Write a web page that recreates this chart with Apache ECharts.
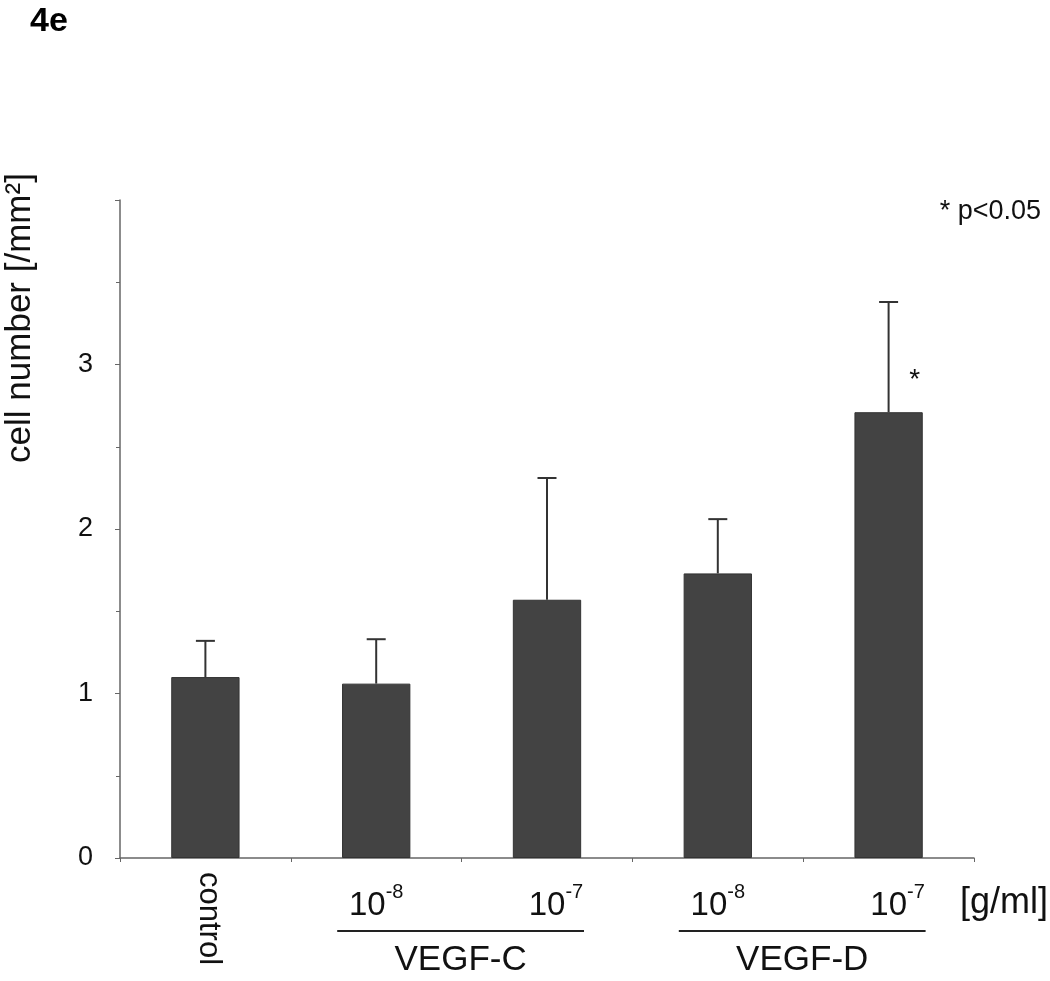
<!DOCTYPE html>
<html><head><meta charset="utf-8">
<script src="https://cdn.jsdelivr.net/npm/echarts@6/dist/echarts.min.js"></script>
<style>html,body{margin:0;padding:0;background:#fff}#c{width:1050px;height:981px}</style>
</head><body><div id="c"></div>
<script>
const categories = ['control', 'VEGF-C 10^-8', 'VEGF-C 10^-7', 'VEGF-D 10^-8', 'VEGF-D 10^-7'];
const doseExponents = ['', '-8', '-7', '-8', '-7'];
const groups = [{ name: 'VEGF-C', from: 1, to: 2 }, { name: 'VEGF-D', from: 3, to: 4 }];
const means = [1.10, 1.06, 1.57, 1.73, 2.71];
const errorTops = [1.32, 1.33, 2.31, 2.06, 3.38];
const significance = ['', '', '', '', '*'];
const yMax = 4;
const yLabelValues = [0, 1, 2, 3];
const unitLabel = '[g/ml]';
const legendNote = '* p<0.05';
const panelLabel = '4e';
const yName = 'cell number [/mm²]';

const FONT = '"Liberation Sans", Arial, sans-serif';
const chart = echarts.init(document.getElementById('c'), null, { renderer: 'canvas' });
const groupEnds = groups.map(g => g.to);

const option = {
  animation: false,
  backgroundColor: '#fff',
  grid: { left: 120, right: 76, top: 200, bottom: 123, containLabel: false, outerBoundsMode: 'none' },
  xAxis: {
    type: 'category',
    data: categories,
    boundaryGap: true,
    axisLine: { lineStyle: { color: '#666', width: 1.5 } },
    axisTick: { show: true, length: 4, lineStyle: { color: '#666' } },
    axisLabel: {
      margin: 24,
      interval: 0,
      formatter: function (v, i) {
        if (!doseExponents[i]) return '';
        const key = groupEnds.indexOf(i) >= 0 ? 'm' : 'n';
        return '{' + key + '|10}{s|' + doseExponents[i] + '}';
      },
      rich: {
        n: { fontSize: 33, fontFamily: FONT, color: '#111', lineHeight: 40, verticalAlign: 'bottom' },
        m: { fontSize: 33, fontFamily: FONT, color: '#111', lineHeight: 40, verticalAlign: 'bottom', padding: [0, 0, 0, 18] },
        s: { fontSize: 20, fontFamily: FONT, color: '#111', lineHeight: 40, verticalAlign: 'top' }
      }
    },
    splitLine: { show: false }
  },
  yAxis: {
    type: 'value',
    min: 0, max: yMax, interval: 1,
    axisLine: { show: true, lineStyle: { color: '#666', width: 1.5 } },
    axisTick: { show: true, length: 5, lineStyle: { color: '#666' } },
    minorTick: { show: true, splitNumber: 2, length: 4, lineStyle: { color: '#666' } },
    axisLabel: {
      margin: 27,
      fontSize: 27, fontFamily: FONT, color: '#111',
      formatter: function (v) { return yLabelValues.indexOf(v) >= 0 ? String(v) : ''; }
    },
    splitLine: { show: false }
  },
  series: [
    {
      type: 'bar',
      data: means,
      barCategoryGap: '60%',
      itemStyle: { color: '#434343', borderColor: '#333', borderWidth: 1 },
      z: 2
    },
    {
      type: 'custom',
      data: means.map((m, i) => [i, m, errorTops[i]]),
      encode: { x: 0, y: 2 },
      z: 3,
      renderItem: function (params, api) {
        const p0 = api.coord([api.value(0), api.value(1)]);
        const p1 = api.coord([api.value(0), api.value(2)]);
        const half = 9.5;
        const st = { stroke: '#333', lineWidth: 2 };
        return {
          type: 'group',
          children: [
            { type: 'line', shape: { x1: p0[0], y1: p0[1], x2: p1[0], y2: p1[1] }, style: st },
            { type: 'line', shape: { x1: p1[0] - half, y1: p1[1], x2: p1[0] + half, y2: p1[1] }, style: st }
          ]
        };
      }
    }
  ]
};
chart.setOption(option);

function px(i, v) { return chart.convertToPixel({ seriesIndex: 0 }, [i, v]); }
const graphics = [];
graphics.push({ type: 'text', left: 30, top: 5, style: { text: panelLabel, font: 'bold 34px ' + FONT, fill: '#000' } });
graphics.push({ type: 'text', x: 1041, y: 212, style: { text: legendNote, font: '27px ' + FONT, fill: '#111', align: 'right', verticalAlign: 'middle' } });
// y axis name
graphics.push({ type: 'text', x: 20, y: 318, rotation: Math.PI / 2,
  style: { text: yName, font: '35px ' + FONT, fill: '#111', align: 'center', verticalAlign: 'middle' } });
// control label (rotated)
const c0 = px(0, 0);
graphics.push({ type: 'text', x: c0[0] + 3, y: c0[1] + 14, rotation: -Math.PI / 2,
  style: { text: categories[0], font: '31px ' + FONT, fill: '#111', align: 'left', verticalAlign: 'middle' } });
// group lines and names
groups.forEach(g => {
  const a = px(g.from, 0), b = px(g.to, 0);
  const x1 = a[0] - 39, x2 = b[0] + 37;
  graphics.push({ type: 'line', shape: { x1: x1, y1: a[1] + 73, x2: x2, y2: a[1] + 73 }, style: { stroke: '#222', lineWidth: 2 } });
  graphics.push({ type: 'text', x: (x1 + x2) / 2, y: a[1] + 102, style: { text: g.name, font: '35px ' + FONT, fill: '#111', align: 'center', verticalAlign: 'middle' } });
});
// unit label
const last = px(categories.length - 1, 0);
graphics.push({ type: 'text', x: 1048, y: last[1] + 45, style: { text: unitLabel, font: '36px ' + FONT, fill: '#111', align: 'right', verticalAlign: 'middle' } });
// significance stars
significance.forEach((s, i) => {
  if (!s) return;
  const p = px(i, means[i]);
  graphics.push({ type: 'text', x: p[0] + 26, y: p[1] - 32, style: { text: s, font: '28px ' + FONT, fill: '#111', align: 'center', verticalAlign: 'middle' } });
});
chart.setOption({ graphic: graphics });
</script>
</body></html>
